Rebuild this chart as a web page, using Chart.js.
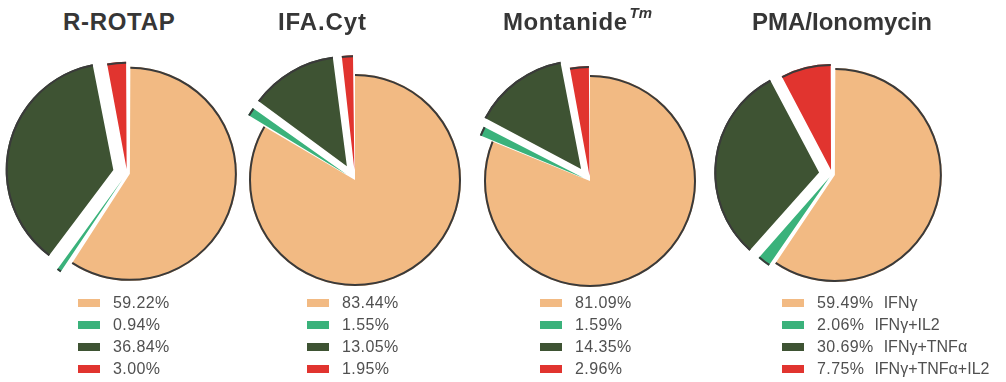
<!DOCTYPE html>
<html>
<head>
<meta charset="utf-8">
<script src="https://cdn.jsdelivr.net/npm/chart.js@4.4.1/dist/chart.umd.min.js"></script>
<style>
  html, body { margin: 0; padding: 0; background: #fff; }
  #page { position: relative; width: 1006px; height: 382px; overflow: hidden; font-family: "Liberation Sans", Arial, sans-serif; }
  canvas { position: absolute; }
  .title { position: absolute; top: 10px; font-size: 24px; line-height: 24px; font-weight: bold; color: #363636; white-space: nowrap; }
  .title sup { font-size: 15px; font-style: italic; font-weight: bold; vertical-align: baseline; line-height: 0; position: relative; top: -12px; margin-left: 2px; letter-spacing: 0; }
  .legend { position: absolute; top: 292px; }
  .row { position: relative; height: 22px; line-height: 22px; font-size: 16px; letter-spacing: 0.4px; color: #505050; white-space: nowrap; }
  .box { position: absolute; left: 0; top: 7px; width: 22px; height: 8px; }
  .txt { position: absolute; }
  .lbl { margin-left: 10px; letter-spacing: 0; }
</style>
</head>
<body>
<div id="page"></div>
<script>
// Data
const categories = ['IFNγ', 'IFNγ+IL2', 'IFNγ+TNFα', 'IFNγ+TNFα+IL2'];
const rrotapValues = [59.22, 0.94, 36.84, 3.00];
const ifaCytValues = [83.44, 1.55, 13.05, 1.95];
const montanideValues = [81.09, 1.59, 14.35, 2.96];
const pmaValues = [59.49, 2.06, 30.69, 7.75];

const colors = ['#F2BA83', '#3AB27B', '#3E5333', '#E1342F'];
const rimColor = '#3a3a3a';

// one entry per pie: where it sits and how far the slices are pulled out
const panels = [
  { title: 'R-ROTAP', values: rrotapValues, cx: 127, cy: 173, r: 104, pull: [3, 8, 14, 4], titleX: 63, spacing: 0.7, legendX: 78 },
  { title: 'IFA.Cyt', values: ifaCytValues, cx: 355, cy: 180, r: 106, pull: [0, 10, 16, 10], titleX: 278, spacing: 0.9, legendX: 307 },
  { title: 'Montanide', sup: 'Tm', values: montanideValues, cx: 590, cy: 181, r: 106, pull: [0, 7, 15, 5], titleX: 503, spacing: 0.5, legendX: 540 },
  { title: 'PMA/Ionomycin', values: pmaValues, cx: 832, cy: 174, r: 104, pull: [3, 4, 13, 4], titleX: 752, spacing: 0, legendX: 782, labels: true },
];

// dark outline only along the outer edge of each slice
const rimPlugin = {
  id: 'rim',
  afterDatasetsDraw(chart) {
    const ctx = chart.ctx;
    chart.getDatasetMeta(0).data.forEach(arc => {
      const { x, y, startAngle, endAngle, outerRadius } = arc;
      const t = (arc.options.offset || 0) / 4;
      const circ = endAngle - startAngle;
      const mid = (startAngle + endAngle) / 2;
      const ro = t * (1 - Math.sin(Math.min(Math.PI, circ)));
      const r = outerRadius + ro;
      const beta = Math.max(0.001, circ * r - ro / Math.PI) / r;
      const trim = (circ - beta) / 2;
      ctx.save();
      ctx.beginPath();
      ctx.arc(x + Math.cos(mid) * t, y + Math.sin(mid) * t, r - 1, startAngle + trim, endAngle - trim);
      ctx.strokeStyle = rimColor;
      ctx.lineWidth = 2;
      ctx.stroke();
      ctx.restore();
    });
  }
};

const page = document.getElementById('page');
const SIZE = 270;

panels.forEach(p => {
  const canvas = document.createElement('canvas');
  canvas.width = SIZE;
  canvas.height = SIZE;
  canvas.style.left = (p.cx - SIZE / 2) + 'px';
  canvas.style.top = (p.cy - SIZE / 2) + 'px';
  canvas.style.width = SIZE + 'px';
  canvas.style.height = SIZE + 'px';
  page.appendChild(canvas);

  new Chart(canvas.getContext('2d'), {
    type: 'pie',
    data: {
      labels: categories,
      datasets: [{
        data: p.values,
        backgroundColor: colors,
        borderWidth: 0,
        offset: p.pull.map(v => v * 4),
        hoverOffset: 0,
        radius: p.r
      }]
    },
    options: {
      responsive: false,
      animation: false,
      radius: p.r,
      layout: { padding: 0 },
      plugins: { legend: { display: false }, tooltip: { enabled: false }, title: { display: false } }
    },
    plugins: [rimPlugin]
  });

  const title = document.createElement('div');
  title.className = 'title';
  title.style.left = p.titleX + 'px';
  title.style.letterSpacing = p.spacing + 'px';
  title.textContent = p.title;
  if (p.sup) {
    const s = document.createElement('sup');
    s.textContent = p.sup;
    title.appendChild(s);
  }
  page.appendChild(title);

  const legend = document.createElement('div');
  legend.className = 'legend';
  legend.style.left = p.legendX + 'px';
  p.values.forEach((v, i) => {
    const row = document.createElement('div');
    row.className = 'row';
    row.innerHTML = '<span class="box" style="background:' + colors[i] + '"></span>' +
      '<span class="txt" style="left:35px">' + v.toFixed(2) + '%' +
      (p.labels ? '<span class="lbl">' + categories[i] + '</span>' : '') + '</span>';
    legend.appendChild(row);
  });
  page.appendChild(legend);
});
</script>
</body>
</html>
